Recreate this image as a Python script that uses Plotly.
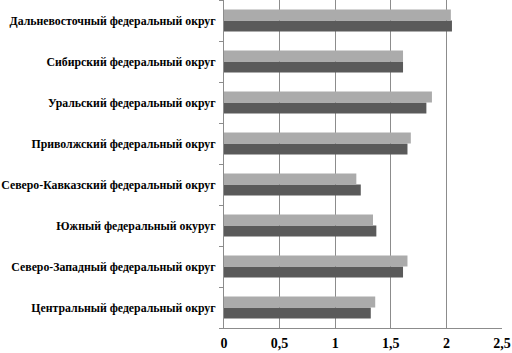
import plotly.graph_objects as go

categories = [
    "Центральный федеральный округ",
    "Северо-Западный федеральный округ",
    "Южный федеральный окуруг",
    "Северо-Кавказский федеральный округ",
    "Приволжский федеральный округ",
    "Уральский федеральный округ",
    "Сибирский федеральный округ",
    "Дальневосточный федеральный округ",
]
series_dark = [1.32, 1.61, 1.37, 1.23, 1.65, 1.82, 1.61, 2.05]
series_light = [1.36, 1.65, 1.34, 1.19, 1.68, 1.87, 1.61, 2.04]
x_ticks = [0, 0.5, 1, 1.5, 2, 2.5]
x_tick_labels = ["0", "0,5", "1", "1,5", "2", "2,5"]

FONT = "Times New Roman"

fig = go.Figure()
fig.add_trace(go.Bar(y=categories, x=series_dark, orientation="h",
                     marker=dict(color="#5a5a5a", line=dict(width=0)), showlegend=False))
fig.add_trace(go.Bar(y=categories, x=series_light, orientation="h",
                     marker=dict(color="#ababab", line=dict(width=0)), showlegend=False))

fig.update_layout(
    width=512, height=353,
    barmode="group", bargap=0.46, bargroupgap=0,
    margin=dict(l=224, r=10, t=0, b=25, autoexpand=False),
    plot_bgcolor="white", paper_bgcolor="white",
    font=dict(family=FONT, color="black"),
    separators=", ",
)
fig.update_xaxes(
    range=[0, 2.5], tickvals=x_ticks, ticktext=x_tick_labels,
    showgrid=True, gridcolor="#8c8c8c", gridwidth=1,
    showline=True, linecolor="#8c8c8c", linewidth=1,
    ticks="", ticklabelstandoff=2,
    tickfont=dict(family=FONT, size=14, color="black", weight="bold"),
    zeroline=False, automargin=False,
)
fig.update_yaxes(
    showline=True, linecolor="#8c8c8c", linewidth=1,
    ticks="outside", ticklen=4, tickcolor="#8c8c8c", tickson="boundaries",
    tickfont=dict(family=FONT, size=11.8, color="black", weight="bold"),
    showgrid=False, ticklabelstandoff=5, automargin=False,
)

fig.write_html(
    "out.html",
    config={"displayModeBar": False},
    post_script="document.body.style.margin='0';document.body.style.overflow='hidden';",
)
